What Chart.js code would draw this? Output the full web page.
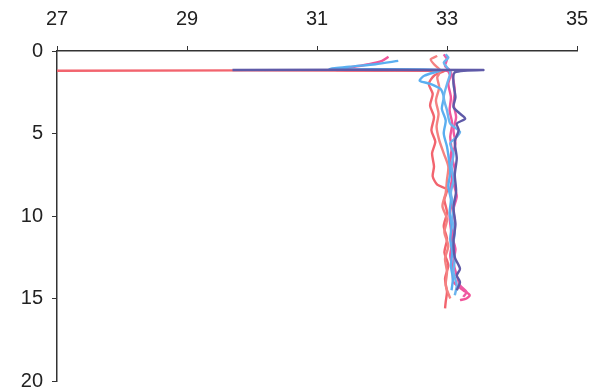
<!DOCTYPE html>
<html>
<head>
<meta charset="utf-8">
<script src="https://cdn.jsdelivr.net/npm/chart.js@4.4.1/dist/chart.umd.min.js"></script>
<style>
  html, body { margin: 0; padding: 0; background: #fff; }
  #wrap { width: 608px; height: 392px; }
</style>
</head>
<body>
<div id="wrap"><canvas id="c" width="608" height="392"></canvas></div>
<script>
// Salinity (x) against depth (y, downwards) for several casts
const xTicks = [27, 29, 31, 33, 35];
const yTicks = [0, 5, 10, 15, 20];

const depthA = [1.2, 1.2, 1.5, 2.0, 2.6, 3.3, 4.0, 4.8, 5.5, 6.2, 7.0, 7.6, 8.1, 8.4, 9.0, 9.8, 10.6, 11.4, 12.2, 13.0, 13.8, 14.6, 15.2, 15.6];
const salA   = [27.0, 32.95, 32.8, 32.72, 32.78, 32.74, 32.8, 32.76, 32.82, 32.77, 32.8, 32.78, 32.85, 33.0, 32.96, 33.0, 32.95, 33.0, 32.96, 33.02, 32.97, 33.0, 32.98, 32.97];

const depthB = [0.3, 0.5, 0.8, 1.2, 1.6, 2.2, 3.0, 3.8, 4.6, 5.4, 6.2, 7.0, 7.8, 8.6, 9.4, 10.2, 11.0, 11.8, 12.6, 13.4, 14.2, 15.0];
const salB   = [32.85, 32.75, 32.8, 32.9, 32.85, 32.88, 32.83, 32.87, 32.84, 32.88, 32.95, 33.02, 33.0, 32.98, 32.93, 33.0, 32.96, 33.02, 32.97, 33.0, 32.98, 33.05];

const depthC = [0.35, 0.6, 0.8, 1.0, 1.15, 1.2, 1.5, 2.0, 2.8, 3.6, 4.4, 5.2, 6.0, 6.8, 7.6, 8.4, 9.2, 10.0, 10.8, 11.6, 12.4, 13.2, 14.0, 14.5, 14.8, 15.0, 15.1];
const salC   = [32.1, 32.0, 31.8, 31.5, 31.3, 33.0, 33.05, 33.02, 33.06, 33.04, 33.08, 33.05, 33.07, 33.04, 33.08, 33.05, 33.07, 33.04, 33.06, 33.08, 33.05, 33.09, 33.1, 33.25, 33.35, 33.3, 33.2];

const depthD = [0.2, 0.5, 0.9, 1.2, 1.8, 2.5, 3.2, 4.0, 4.8, 5.6, 6.4, 7.2, 8.0, 8.8, 9.6, 10.4, 11.2, 12.0, 12.8, 13.6, 14.2, 14.6, 14.9];
const salD   = [32.95, 33.0, 32.97, 33.05, 33.1, 33.12, 33.1, 33.14, 33.1, 33.13, 33.08, 33.12, 33.1, 33.15, 33.1, 33.12, 33.08, 33.13, 33.1, 33.15, 33.2, 33.3, 33.25];

const depthE = [0.6, 0.8, 0.95, 1.1, 1.15, 1.5, 1.8, 2.0, 2.3, 2.8, 3.5, 4.2, 5.0, 5.8, 6.6, 7.4, 8.2, 9.0, 9.8, 10.6, 11.4, 12.2, 13.0, 13.8, 14.5];
const salE   = [32.25, 31.9, 31.5, 31.2, 32.9, 32.65, 32.58, 32.75, 32.9, 32.95, 32.92, 32.98, 32.95, 33.0, 33.03, 33.05, 33.02, 33.06, 33.04, 33.07, 33.05, 33.08, 33.06, 33.09, 33.07];

const depthF = [0.2, 0.4, 0.7, 1.0, 1.3, 2.0, 2.8, 3.6, 4.4, 4.9, 5.2, 5.6, 6.2, 7.0, 7.8, 8.6, 9.4, 10.2, 11.0, 11.8, 12.6, 13.4, 14.2, 14.8];
const salF   = [32.98, 33.02, 32.95, 33.0, 33.05, 33.0, 32.95, 33.0, 33.05, 33.2, 33.15, 33.05, 33.1, 33.07, 33.1, 33.06, 33.1, 33.08, 33.12, 33.09, 33.12, 33.1, 33.15, 33.12];

const depthG = [1.15, 1.15, 1.3, 2.0, 2.8, 3.4, 3.8, 4.1, 4.4, 4.8, 5.5, 6.5, 7.5, 8.5, 9.5, 10.5, 11.5, 12.5, 13.2, 13.6, 14.0, 14.5];
const salG   = [29.7, 33.55, 33.12, 33.1, 33.13, 33.1, 33.2, 33.28, 33.15, 33.18, 33.12, 33.15, 33.12, 33.14, 33.1, 33.13, 33.1, 33.12, 33.2, 33.15, 33.2, 33.15];

function pts(sal, depth) {
  return sal.map((s, i) => ({ x: s, y: depth[i] }));
}

function cast(sal, depth, color) {
  return {
    data: pts(sal, depth),
    borderColor: color,
    borderWidth: 2.4,
    showLine: true,
    pointRadius: 0,
    tension: 0.25,
    fill: false
  };
}

const datasets = [
  cast(salG, depthG, '#5f5aa8'),
  cast(salF, depthF, '#6cb4ee'),
  cast(salE, depthE, '#5aaef0'),
  cast(salD, depthD, '#ee5aa4'),
  cast(salB, depthB, '#f48282'),
  cast(salA, depthA, '#f2646e'),
  cast(salC, depthC, '#f0569a')
];

const tickFont = { family: "'Liberation Sans', Arial, sans-serif", size: 20 };

new Chart(document.getElementById('c'), {
  type: 'scatter',
  data: { datasets },
  options: {
    responsive: false,
    animation: false,
    layout: { padding: { left: 0, right: 31, top: 0, bottom: 11 } },
    plugins: { legend: { display: false }, tooltip: { enabled: false } },
    scales: {
      x: {
        type: 'linear',
        position: 'top',
        min: 27, max: 35,
        afterBuildTicks: (s) => { s.ticks = xTicks.map(v => ({ value: v })); },
        afterFit: (s) => { s.height = 51; s.paddingLeft = 0; s.paddingRight = 0; },
        ticks: { font: tickFont, color: '#222', padding: 15 },
        grid: { drawOnChartArea: false, drawTicks: true, tickLength: 5, color: '#333', lineWidth: 1 },
        border: { display: true, color: '#333', width: 1.5 }
      },
      y: {
        type: 'linear',
        reverse: true,
        min: 0, max: 20,
        afterBuildTicks: (s) => { s.ticks = yTicks.map(v => ({ value: v })); },
        afterFit: (s) => { s.width = 57; s.paddingTop = 0; s.paddingBottom = 0; },
        ticks: { font: tickFont, color: '#222', padding: 9 },
        grid: { drawOnChartArea: false, drawTicks: true, tickLength: 5, color: '#333', lineWidth: 1 },
        border: { display: true, color: '#333', width: 1.5 }
      }
    }
  }
});
</script>
</body>
</html>
